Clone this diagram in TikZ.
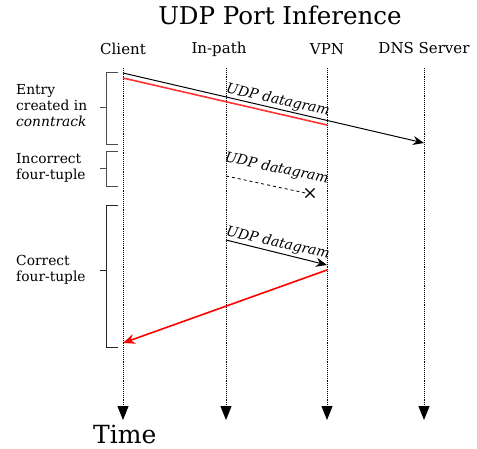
\documentclass[tikz,border=0pt]{standalone}
\usepackage{fontspec}
\setmainfont{DejaVu Serif}
\usetikzlibrary{arrows.meta,shapes.misc}
\begin{document}
\begin{tikzpicture}[x=1pt,y=-1pt,
  lifeline/.style={densely dotted,line width=0.9pt,-{Triangle[width=11pt,length=14pt]}},
  head/.style={font=\fontsize{15}{18}\selectfont,anchor=base},
  msg/.style={line width=1pt,-{Stealth[width=9pt,length=11pt]}},
  redmsg/.style={line width=1.6pt,red},
  lbl/.style={font=\itshape\fontsize{14}{16}\selectfont,inner sep=0pt,anchor=base},
  brk/.style={line width=1pt,draw=black!70},
  side/.style={font=\fontsize{13.8}{16}\selectfont,align=left,anchor=west,inner sep=0pt}]
\useasboundingbox (0,0) rectangle (477,449);
\node[font=\fontsize{24.5}{28}\selectfont,anchor=base] (title) at (280,25) {UDP Port Inference};
\node[head] (hc) at (123,55) {Client};
\node[head] (hi) at (219,54) {In-path};
\node[head] (hv) at (327,55) {VPN};
\node[head] (hd) at (424,54) {DNS Server};
\foreach \n/\x in {c/123,i/226,v/327,d/424}{
  \coordinate (\n top) at (\x,68);
  \coordinate (\n bot) at (\x,420);
  \draw[lifeline] (\n top) -- (\n bot);
}
% messages
\coordinate (m1s) at (123,73); \coordinate (m1e) at (424,143);
\draw[msg] (m1s) -- (m1e);
\coordinate (r1s) at (123,78); \coordinate (r1e) at (327,125);
\draw[redmsg,red!80!white] (r1s) -- (r1e);
\node[lbl,rotate=-12.5] (l1) at (277,104) {UDP datagram};
\node[cross out,draw,line width=1.1pt,minimum size=8pt,inner sep=0pt] (x1) at (310,193) {};
\coordinate (d1s) at (226,176);
\draw[dashed,line width=0.8pt] (d1s) -- (x1.west);
\node[lbl,rotate=-12] (l2) at (276,172.5) {UDP datagram};
\coordinate (m2s) at (226,240); \coordinate (m2e) at (327,265);
\draw[msg] (m2s) -- (m2e);
\node[lbl,rotate=-12.5] (l3) at (277,247) {UDP datagram};
\coordinate (r2s) at (327,270); \coordinate (r2e) at (123,343);
\draw[redmsg,-{Stealth[width=10pt,length=12pt]}] (r2s) -- (r2e);
% brackets
\draw[brk] (118,73) -- (106,73) -- (106,145) -- (118,145);
\draw[brk] (100,108) -- (106,108);
\draw[brk] (118,152) -- (106,152) -- (106,187) -- (118,187);
\draw[brk] (100,169) -- (106,169);
\draw[brk,draw=black!85] (118,206) -- (106,206) -- (106,348) -- (118,348);
\draw[brk,draw=black!85] (100,271) -- (106,271);
\node[side] (s1) at (16,106) {Entry\\created in\\\textit{conntrack}};
\node[side] (s2) at (16,168) {Incorrect\\four-tuple};
\node[side] (s3) at (16,270) {Correct\\four-tuple};
\node[font=\fontsize{25}{28}\selectfont,anchor=base west,inner sep=0pt] (time) at (93,443) {Time};
\end{tikzpicture}
\end{document}
